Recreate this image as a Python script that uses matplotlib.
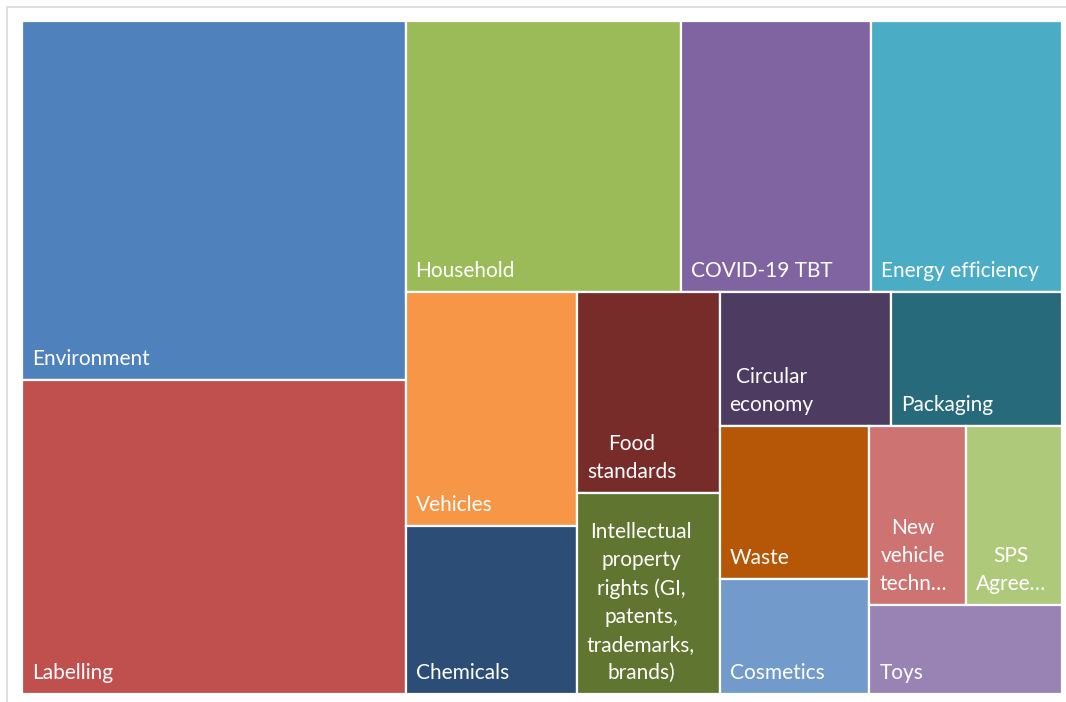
import matplotlib
matplotlib.use("Agg")
from matplotlib import pyplot as plt
from matplotlib.patches import Rectangle

labels = ["Environment", "Labelling", "Household", "COVID-19 TBT", "Energy efficiency",
          "Vehicles", "Chemicals", "Food\nstandards",
          "Intellectual\nproperty\nrights (GI,\npatents,\ntrademarks,\nbrands)",
          "Circular\neconomy", "Packaging", "Waste", "Cosmetics",
          "New\nvehicle\ntechn\u2026", "SPS\nAgree\u2026", "Toys"]
values = [48, 42, 26, 18, 18, 14, 10, 10, 10, 8, 8, 8, 6, 6, 6, 6]
colors = ["#4F81BD", "#C0504D", "#9BBB59", "#8064A2", "#4BACC6", "#F79646",
          "#2C4D75", "#772C2A", "#5F7530", "#4D3B62", "#276A7C", "#B65708",
          "#729ACA", "#CD7371", "#AFC97A", "#9983B5"]


def worst(row, side):
    thick = sum(row) / side
    return max(max(thick / (a / thick), (a / thick) / thick) for a in row)


def squarify(areas, x, y, w, h):
    rects = []
    i = 0
    while i < len(areas):
        side = min(w, h)
        row = [areas[i]]
        j = i + 1
        while j < len(areas) and worst(row + [areas[j]], side) <= worst(row, side):
            row.append(areas[j])
            j += 1
        thick = sum(row) / side
        pos = 0
        for a in row:
            ln = a / thick
            if w > h:
                rects.append((x, y + pos, thick, ln))
            else:
                rects.append((x + pos, y, ln, thick))
            pos += ln
        if w > h:
            x += thick
            w -= thick
        else:
            y += thick
            h -= thick
        i = j
    return rects


fig = plt.figure(figsize=(10.66, 7.02), dpi=100)
ax = fig.add_axes([22 / 1066, 8 / 702, 1040 / 1066, 673 / 702])
W, H = 1040, 673
ax.set_xlim(0, W)
ax.set_ylim(H, 0)
ax.axis("off")

total = sum(values)
areas = [v / total * W * H for v in values]
rects = squarify(areas, 0, 0, W, H)

for (x, y, w, h), lab, c in zip(rects, labels, colors):
    ax.add_patch(Rectangle((x, y), w, h, facecolor=c, edgecolor="white", linewidth=1.6))
    ax.annotate(lab, xy=(x, y + h), xytext=(7.2, 10.8), textcoords="offset points",
                ha="left", va="baseline", multialignment="center",
                color="white", fontsize=15, family="Lato", linespacing=1.5)

# light frame of the chart area
fig.patches.append(Rectangle((7 / 1066, -0.05), 1.1, 1.05 - 6.5 / 702, transform=fig.transFigure,
                             fill=False, edgecolor="#D9D9D9", linewidth=1.2))

plt.savefig("out.png", dpi=100)
